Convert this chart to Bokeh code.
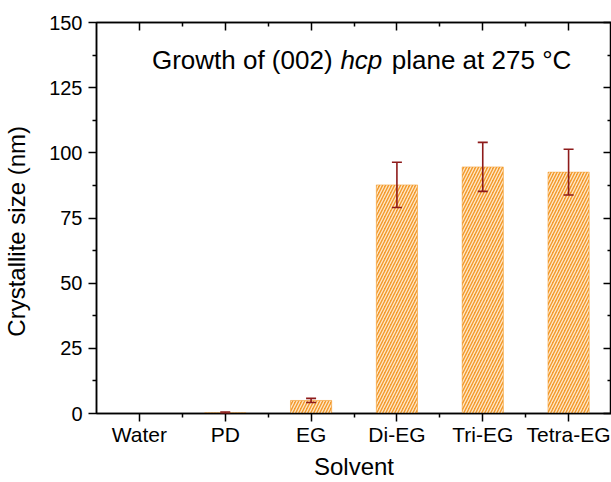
from bokeh.plotting import figure
from bokeh.models import (Range1d, FixedTicker, LinearAxis, Label, Whisker,
                          ColumnDataSource, TeeHead, CustomJSTickFormatter)
from bokeh.embed import file_html
from bokeh.resources import INLINE

# ---- data ----
solvents = ["Water", "PD", "EG", "Di-EG", "Tri-EG", "Tetra-EG"]
crystallite_size = [0.0, 0.3, 5.0, 87.7, 94.6, 92.6]
size_error = [0.0, 0.3, 0.8, 8.7, 9.4, 8.8]
y_ticks = [0, 25, 50, 75, 100, 125, 150]
y_minor_ticks = [12.5, 37.5, 62.5, 87.5, 112.5, 137.5]

FONT = "Liberation Sans"
BAR_COLOR = "#F39A2B"
HATCH_COLOR = "#FFF1DC"
ERR_COLOR = "#8E1B1B"

xpos = list(range(1, len(solvents) + 1))
x_minor = [i + 0.5 for i in xpos[:-1]]

p = figure(width=611, height=482, x_range=Range1d(0.5, len(solvents) + 0.5),
           y_range=Range1d(0, 150), output_backend="svg", toolbar_location=None,
           min_border_left=0, min_border_right=0, min_border_top=22,
           min_border_bottom=0)
p.grid.visible = False
p.outline_line_color = "black"
p.outline_line_width = 1.5
p.background_fill_color = "white"

src = ColumnDataSource(dict(x=xpos, top=crystallite_size))
p.vbar(x="x", top="top", bottom=0, width=0.48, source=src,
       fill_color=BAR_COLOR, line_color=BAR_COLOR, line_width=0.5,
       hatch_pattern="/", hatch_color=HATCH_COLOR, hatch_scale=6,
       hatch_weight=1.3, hatch_alpha=0.9)

keep = [i for i, e in enumerate(size_error) if e > 0]
esrc = ColumnDataSource(dict(x=[xpos[i] for i in keep],
                             upper=[crystallite_size[i] + size_error[i] for i in keep],
                             lower=[crystallite_size[i] - size_error[i] for i in keep]))
w = Whisker(base="x", upper="upper", lower="lower", source=esrc,
            line_color=ERR_COLOR, line_width=1.6, level="overlay",
            upper_head=TeeHead(size=10, line_color=ERR_COLOR, line_width=1.6),
            lower_head=TeeHead(size=10, line_color=ERR_COLOR, line_width=1.6))
p.add_layout(w)

# bottom axis
xa = p.xaxis[0]
xa.ticker = FixedTicker(ticks=xpos, minor_ticks=x_minor)
xa.major_label_overrides = {i: s for i, s in zip(xpos, solvents)}
xa.axis_label = "Solvent"
# left axis
ya = p.yaxis[0]
ya.ticker = FixedTicker(ticks=y_ticks, minor_ticks=y_minor_ticks)
ya.axis_label = "Crystallite size (nm)\u00a0\u00a0\u00a0\u00a0"

for ax in (xa, ya):
    ax.major_tick_out = 8
    ax.major_tick_in = 0
    ax.minor_tick_out = 4
    ax.minor_tick_in = 0
    ax.axis_line_width = 1.5
    ax.major_tick_line_width = 1.5
    ax.minor_tick_line_width = 1.5
    ax.major_label_text_font = FONT
    ax.major_label_text_font_size = "20px"
    ax.major_label_text_color = "black"
    ax.axis_label_text_font = FONT
    ax.axis_label_text_font_size = "24px"
    ax.axis_label_text_font_style = "normal"
    ax.axis_label_text_color = "black"
    ax.major_label_standoff = 6
xa.major_label_text_font_size = "21px"
xa.major_label_standoff = 1
xa.axis_label_standoff = 4
ya.axis_label_standoff = 16

# mirrored axes (ticks inward, no labels)
empty = CustomJSTickFormatter(code="return ''")
top_ax = LinearAxis(ticker=FixedTicker(ticks=xpos, minor_ticks=x_minor), formatter=empty)
right_ax = LinearAxis(ticker=FixedTicker(ticks=y_ticks, minor_ticks=y_minor_ticks), formatter=empty)
for ax in (top_ax, right_ax):
    ax.major_tick_in = 8
    ax.major_tick_out = 0
    ax.minor_tick_in = 4
    ax.minor_tick_out = 0
    ax.axis_line_width = 1.5
    ax.major_tick_line_width = 1.5
    ax.minor_tick_line_width = 1.5
    ax.major_label_standoff = 0
    ax.major_label_text_font_size = "0px"
p.add_layout(top_ax, "above")
p.add_layout(right_ax, "right")

# in-plot title with italic "hcp"
TY = 135.5
def px_to_x(px):
    return 0.5 + (px - 97) / 85.17
for txt, px, style in [("Growth of (002)", 152, "normal"),
                       ("hcp", 339, "italic"),
                       ("plane at 275 \u00b0C", 390, "normal")]:
    p.add_layout(Label(x=px_to_x(px), y=TY, text=txt, text_font=FONT,
                       text_font_size="26px", text_font_style=style,
                       text_color="black", text_align="left",
                       text_baseline="alphabetic"))

open("out.html", "w").write(file_html(p, INLINE))
